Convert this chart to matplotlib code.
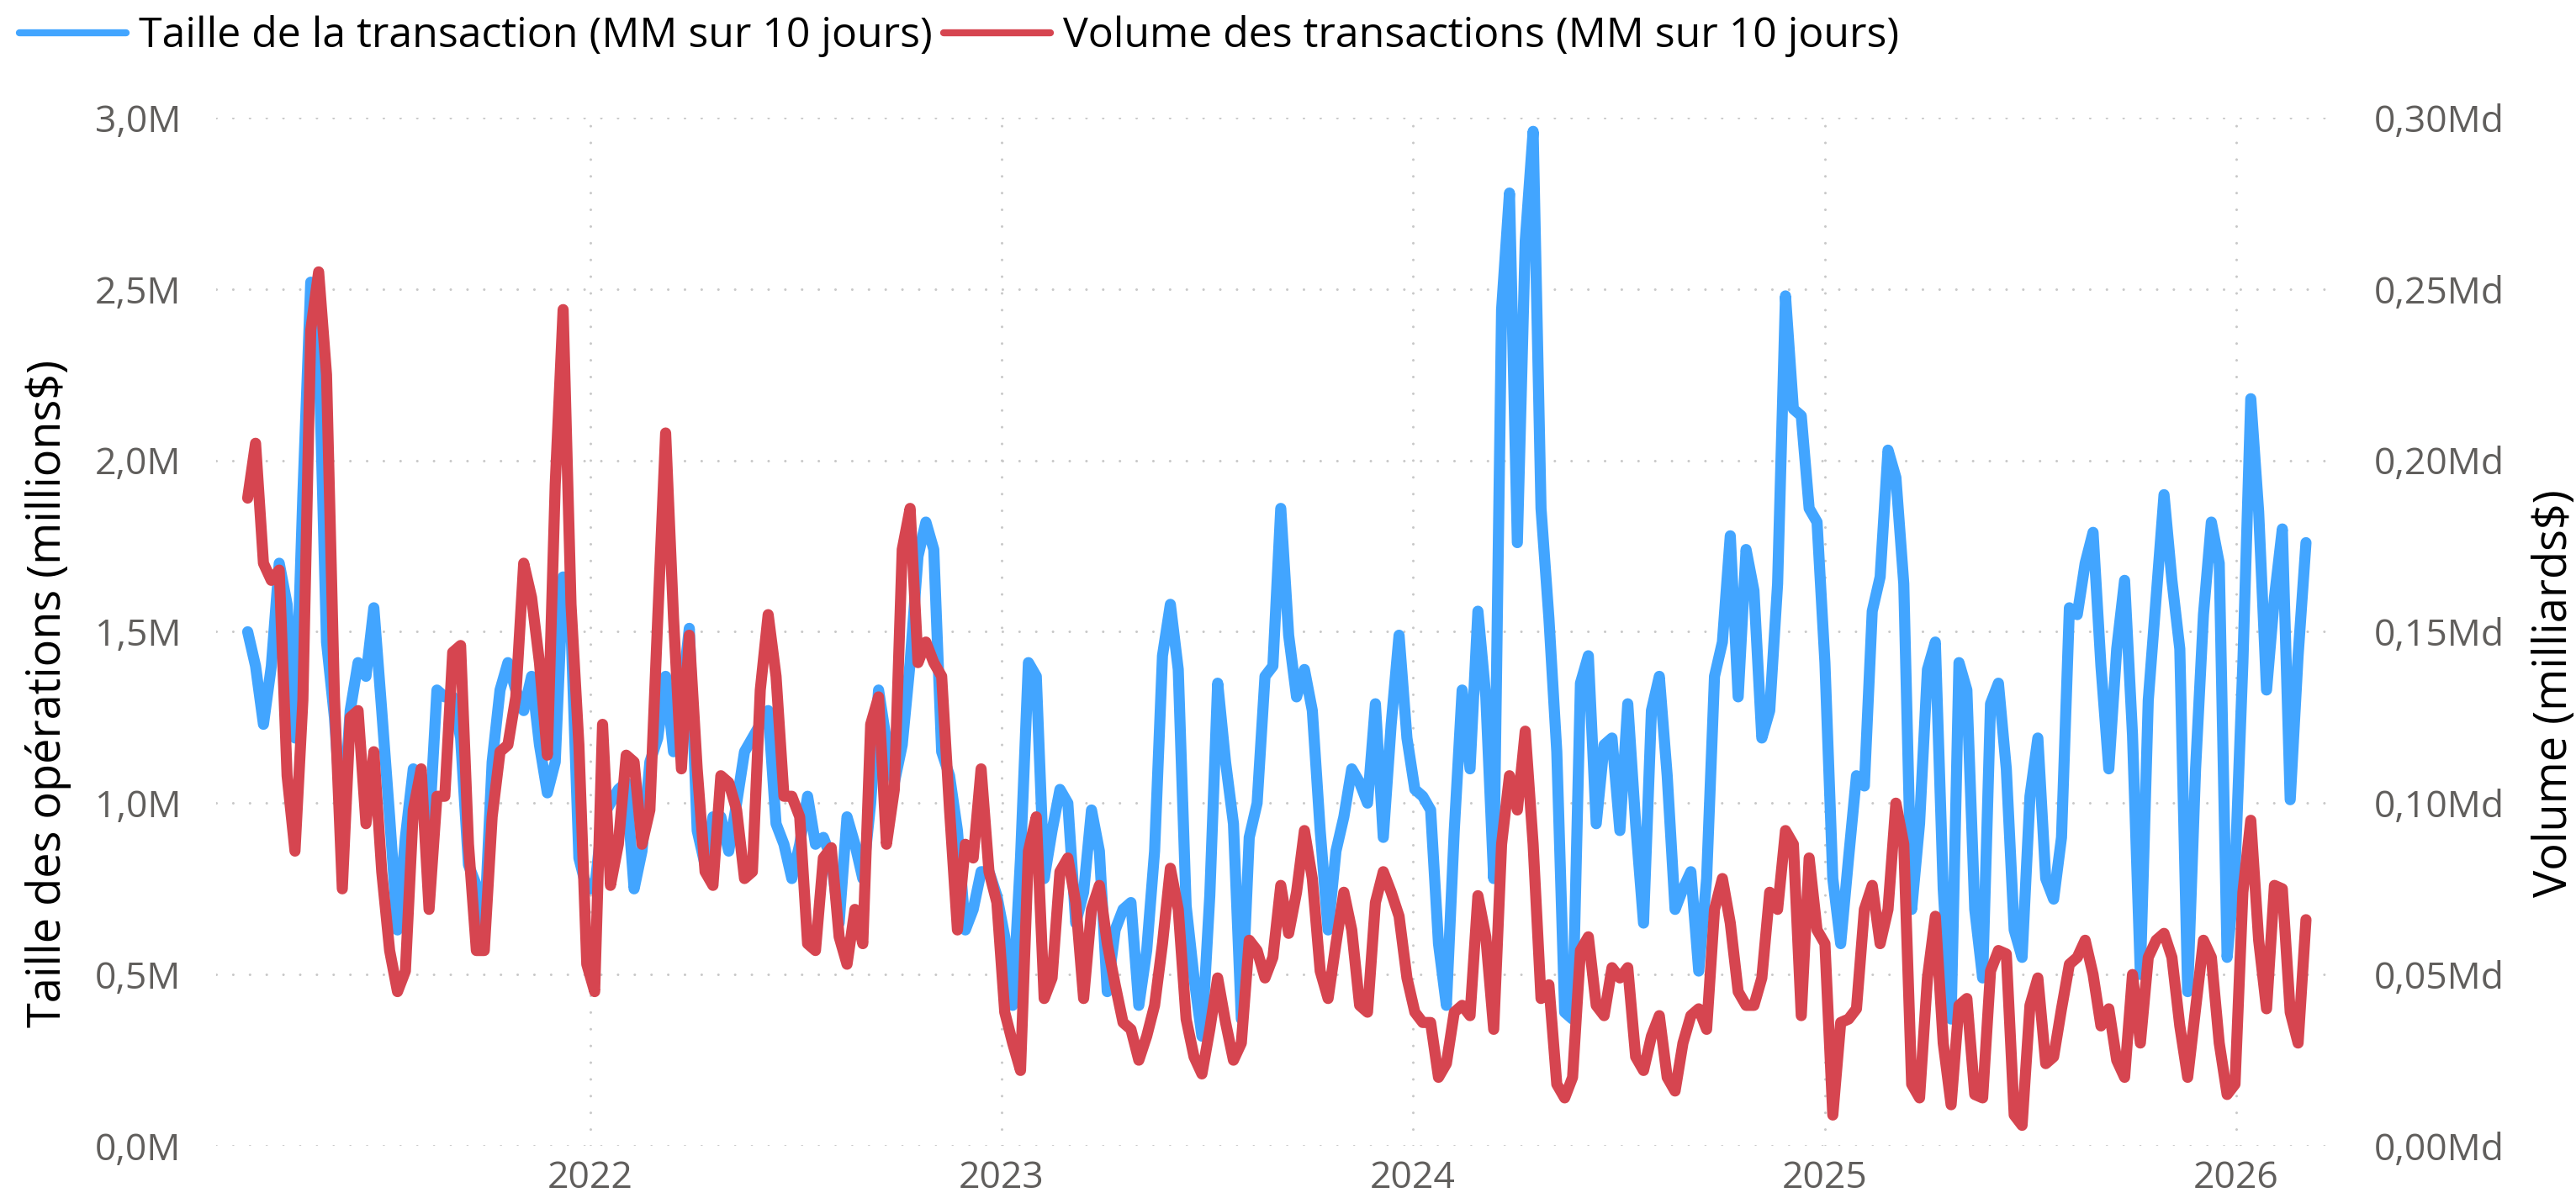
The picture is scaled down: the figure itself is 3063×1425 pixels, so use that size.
import matplotlib
matplotlib.use("Agg")
import matplotlib.pyplot as plt
import matplotlib.dates as mdates
from matplotlib.ticker import FuncFormatter, MultipleLocator
from matplotlib.lines import Line2D
import pandas as pd

# weekly samples of the 10-day moving averages, first point 2021-03-03
start = "2021-03-03"

# transaction size, millions $
taille = [
    1.50, 1.40, 1.23, 1.40, 1.70, 1.58, 1.19, 1.90, 2.52, 2.34, 1.47, 1.25, 0.92, 1.27,
    1.41, 1.37, 1.57, 1.27, 0.96, 0.63, 0.90, 1.10, 1.08, 0.92, 1.33, 1.31, 1.31,
    1.19, 0.82, 0.76, 0.63, 1.12, 1.33, 1.41, 1.33, 1.27, 1.37, 1.17, 1.03, 1.12,
    1.66, 1.51, 0.84, 0.75, 0.75, 0.96, 1.00, 1.04, 1.06, 0.75, 0.86, 1.12, 1.19,
    1.37, 1.15, 1.30, 1.51, 0.92, 0.82, 0.96, 0.96, 0.86, 1.00, 1.15, 1.19, 1.23,
    1.27, 0.94, 0.88, 0.78, 0.88, 1.02, 0.88, 0.90, 0.84, 0.65, 0.96, 0.88,
    0.78, 1.00, 1.33, 1.18, 1.06, 1.17, 1.41, 1.72, 1.82, 1.74, 1.15, 1.08, 0.92,
    0.63, 0.69, 0.80, 0.80, 0.73, 0.61, 0.41, 0.84, 1.41, 1.37, 0.78, 0.92, 1.04,
    1.00, 0.65, 0.74, 0.98, 0.86, 0.45, 0.63, 0.69, 0.71, 0.41, 0.57, 0.86, 1.43,
    1.58, 1.39, 0.70, 0.49, 0.32, 0.73, 1.35, 1.12, 0.94, 0.37, 0.90, 1.00,
    1.37, 1.40, 1.86, 1.49, 1.31, 1.39, 1.27, 0.92, 0.63, 0.86, 0.96, 1.10, 1.06,
    1.00, 1.29, 0.90, 1.23, 1.49, 1.19, 1.04, 1.02, 0.98, 0.59, 0.41, 0.92, 1.33,
    1.10, 1.56, 1.31, 0.78, 2.44, 2.78, 1.76, 2.64, 2.96, 1.86, 1.54, 1.15, 0.39,
    0.37, 1.35, 1.43, 0.94, 1.17, 1.19, 0.92, 1.29, 0.94, 0.65, 1.27, 1.37, 1.08,
    0.69, 0.75, 0.80, 0.51, 0.78, 1.37, 1.47, 1.78, 1.31, 1.74, 1.62, 1.19, 1.27,
    1.64, 2.48, 2.15, 2.13, 1.86, 1.82, 1.41, 0.78, 0.59, 0.84, 1.08, 1.05,
    1.56, 1.66, 2.03, 1.95, 1.64, 0.69, 0.94, 1.39, 1.47, 0.75, 0.37, 1.41, 1.33,
    0.69, 0.49, 1.29, 1.35, 1.10, 0.63, 0.55, 1.02, 1.19, 0.78, 0.72, 0.90, 1.57,
    1.55, 1.70, 1.79, 1.40, 1.10, 1.45, 1.65, 1.20, 0.50, 1.30, 1.60, 1.90, 1.65,
    1.45, 0.45, 1.10, 1.55, 1.82, 1.70, 0.55,
    0.80, 1.41, 2.18, 1.85, 1.33, 1.60, 1.80, 1.01, 1.43, 1.76,
]

# transaction volume, millions $ (right axis shows milliards)
volume = [
    189, 205, 170, 165, 168, 108, 86, 130, 238, 255, 225, 131, 75, 125, 127, 94,
    115, 80, 57, 45, 51, 98, 110, 69, 102, 102, 144,
    146, 88, 57, 57, 96, 115, 117, 131, 170, 160, 141, 114, 193, 244, 158, 117,
    53, 45, 123, 76, 88, 114, 112, 88, 98, 154,
    208, 154, 110, 149, 110, 80, 76, 108, 106, 98, 78, 80, 133, 155, 137, 102,
    102, 96, 59, 57, 84, 87, 61, 53, 69,
    59, 123, 131, 88, 104, 174, 186, 141, 147, 141, 137, 98, 63, 88, 84, 110,
    80, 71, 39, 30, 22, 86, 96, 43, 49, 80,
    84, 71, 43, 69, 76, 59, 47, 36, 34, 25, 32, 41, 59, 81, 69, 37, 26, 21, 34,
    49, 36, 25, 30, 60, 57,
    49, 55, 76, 62, 74, 92, 78, 51, 43, 59, 74, 63, 41, 39, 71, 80, 74, 67, 49,
    39, 36, 36, 20, 24, 39, 41,
    38, 73, 61, 34, 88, 108, 98, 121, 88, 43, 47, 18, 14, 20, 57, 61, 41, 38,
    52, 49, 52, 26, 22, 32, 38, 20,
    16, 30, 38, 40, 34, 69, 78, 65, 45, 41, 41, 49, 74, 69, 92, 88, 38, 84, 63,
    59, 9, 36, 37, 40, 69,
    76, 59, 69, 100, 88, 18, 14, 49, 67, 30, 12, 41, 43, 15, 14, 51, 57, 56, 9,
    6, 41, 49, 24, 26, 40, 53,
    55, 60, 50, 35, 40, 25, 20, 50, 30, 55, 60, 62, 55, 35, 20, 40, 60, 55, 30, 15,
    18, 74, 95, 60, 40, 76, 75, 39, 30, 66,
]

labels = ["Taille de la transaction (MM sur 10 jours)",
          "Volume des transactions (MM sur 10 jours)"]
blue = "#42A5FF"
red = "#D64550"
grey = "#605E5C"

dates = pd.date_range(start, periods=len(taille), freq="7D")

plt.rcParams['font.family'] = ['Open Sans', 'DejaVu Sans']

fig = plt.figure(figsize=(30.63, 14.25), dpi=100)
ax = fig.add_axes([0.0839, 0.0435, 0.8244, 0.8583])
ax2 = ax.twinx()

ax.plot(dates, taille, color=blue, lw=9.5, solid_joinstyle='round', solid_capstyle='round')
ax2.plot(dates, volume, color=red, lw=9.5, solid_joinstyle='round', solid_capstyle='round')

ax.set_xlim(pd.Timestamp("2021-02-03"), pd.Timestamp("2026-04-03"))
ax.set_ylim(0, 3.0)
ax2.set_ylim(0, 300)

ax.xaxis.set_major_locator(mdates.YearLocator())
ax.xaxis.set_major_formatter(mdates.DateFormatter("%Y"))
ax.yaxis.set_major_locator(MultipleLocator(0.5))
ax2.yaxis.set_major_locator(MultipleLocator(50))
ax.yaxis.set_major_formatter(FuncFormatter(lambda v, p: f"{v:.1f}".replace(".", ",") + "M"))
ax2.yaxis.set_major_formatter(FuncFormatter(lambda v, p: f"{v / 1000:.2f}".replace(".", ",") + "Md"))

ax.set_axisbelow(True)
ax.grid(True, color="#C8C8C8", lw=2.2, linestyle=(0, (0.01, 6.5)), dash_capstyle='round')

for a in (ax, ax2):
    for s in a.spines.values():
        s.set_visible(False)
ax.tick_params(axis='y', length=0, pad=30, labelsize=32, labelcolor=grey)
ax.tick_params(axis='x', length=0, pad=12, labelsize=32, labelcolor=grey)
ax2.tick_params(axis='y', length=0, pad=29, labelsize=32, labelcolor=grey)

ax.set_ylabel("Taille des opérations (millions$)", fontsize=39, color="black",
              ha="center", va="center")
ax.yaxis.set_label_coords(-0.079, 0.44)
ax2.set_ylabel("Volume (milliards$)", fontsize=39, color="black", rotation=90,
               ha="center", va="center")
ax2.yaxis.set_label_coords(1.101, 0.44)

handles = [Line2D([], [], color=blue, lw=6, solid_capstyle='round'),
           Line2D([], [], color=red, lw=6, solid_capstyle='round')]
fig.legend(handles, labels, loc="center left", bbox_to_anchor=(23 / 3063, 1 - 43 / 1425),
           ncol=2, frameon=False, fontsize=36, handlelength=2.54, handletextpad=0.3,
           columnspacing=0.26, borderpad=0, borderaxespad=0)

fig.savefig("out.png", dpi=100)
